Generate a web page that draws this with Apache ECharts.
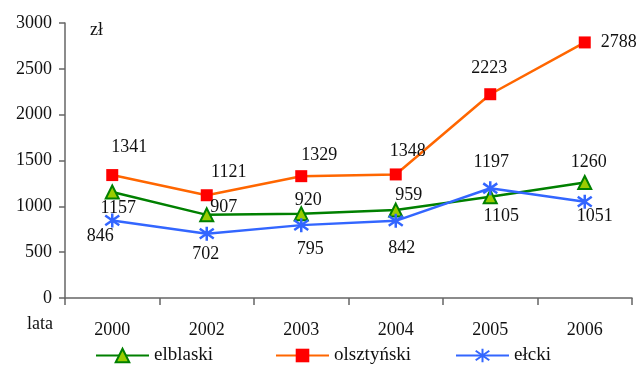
<!DOCTYPE html>
<html><head><meta charset="utf-8">
<script src="https://cdn.jsdelivr.net/npm/echarts@6/dist/echarts.min.js"></script>
<style>html,body{margin:0;padding:0;background:#fff}#c{width:643px;height:365px}</style>
</head><body><div id="c"></div>
<script>
const categories = ['2000','2002','2003','2004','2005','2006'];
const elblaski = [1157, 907, 920, 959, 1105, 1260];
const olsztynski = [1341, 1121, 1329, 1348, 2223, 2788];
const elcki = [846, 702, 795, 842, 1197, 1051];
const yTicks = [0, 500, 1000, 1500, 2000, 2500, 3000];

// label placement (offsets from point centre)
const offE = [[6,16],[17,-8],[7,-13],[13,-15],[11,20],[4,-20]];
const offO = [[17,-28],[22,-23],[18,-21],[12,-23],[-1,-26],[34,0]];
const offB = [[-12,16],[-1,21],[9,24],[6,27],[1,-26],[10,15]];

const FONT = '"Liberation Serif", "DejaVu Serif", serif';
const FS = 18;

function mk(vals, offs){
  return vals.map((v,i)=>({value:v, label:{show:true, position:'inside', offset:offs[i]}}));
}
const lbl = {show:true, color:'#111', fontFamily:FONT, fontSize:FS, formatter:'{c}'};
const asterisk = 'path://M5,0L5,10M0.7,1.5L9.3,8.5M0.7,8.5L9.3,1.5';

const chart = echarts.init(document.getElementById('c'), null, {renderer:'canvas'});
const legendBase = {top:346, itemWidth:53, itemHeight:17, textStyle:{fontFamily:FONT, fontSize:19, color:'#111'}, padding:0};
chart.setOption({
  animation:false,
  backgroundColor:'#fff',
  textStyle:{fontFamily:FONT},
  grid:{left:65, right:11, top:23, bottom:67, containLabel:false},
  xAxis:{type:'category', data:categories, boundaryGap:true,
    axisLine:{lineStyle:{color:'#666', width:1.5}},
    axisTick:{show:true, length:7, lineStyle:{color:'#666', width:1.5}},
    axisLabel:{fontFamily:FONT, fontSize:FS, color:'#111', margin:23}},
  yAxis:{type:'value', min:yTicks[0], max:yTicks[yTicks.length-1], interval:500,
    axisLine:{show:true, lineStyle:{color:'#666', width:1.5}},
    axisTick:{show:true, length:6, lineStyle:{color:'#666', width:1.5}},
    splitLine:{show:false},
    axisLabel:{fontFamily:FONT, fontSize:FS, color:'#111', margin:13, formatter:(v)=>String(v)}},
  legend:[
    Object.assign({left:95, data:['elblaski']}, legendBase),
    Object.assign({left:275, data:['olsztyński']}, legendBase),
    Object.assign({left:455, data:['ełcki']}, legendBase)
  ],
  graphic:[
    {type:'text', left:90, top:21, style:{text:'zł', fontFamily:FONT, fontSize:FS, fill:'#111'}},
    {type:'text', left:27, top:315, style:{text:'lata', fontFamily:FONT, fontSize:FS, fill:'#111'}}
  ],
  series:[
    {name:'elblaski', type:'line', data:mk(elblaski, offE), symbol:'triangle', symbolSize:13,
     lineStyle:{color:'#008000', width:2.5}, itemStyle:{color:'#99cc00', borderColor:'#008000', borderWidth:2}, label:lbl, z:3},
    {name:'olsztyński', type:'line', data:mk(olsztynski, offO), symbol:'rect', symbolSize:12,
     lineStyle:{color:'#ff6600', width:2.5}, itemStyle:{color:'#ff0000', borderColor:'#ff0000', borderWidth:0}, label:lbl, z:2},
    {name:'ełcki', type:'line', data:mk(elcki, offB), symbol:asterisk, symbolSize:14,
     lineStyle:{color:'#3366ff', width:2.5}, itemStyle:{color:'#3366ff', borderColor:'#3366ff', borderWidth:2.5}, label:lbl, z:4}
  ]
});
</script></body></html>
